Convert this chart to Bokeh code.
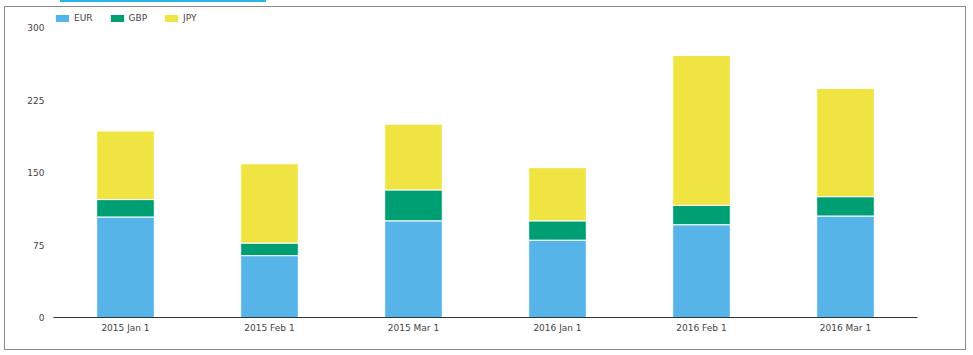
from bokeh.plotting import figure
from bokeh.models import Range1d, FactorRange, FixedTicker, Div, ColumnDataSource
from bokeh.layouts import column
from bokeh.embed import file_html
from bokeh.resources import INLINE

categories = ["2015 Jan 1", "2015 Feb 1", "2015 Mar 1", "2016 Jan 1", "2016 Feb 1", "2016 Mar 1"]
series = ["EUR", "GBP", "JPY"]
EUR = [104, 64, 100, 80, 96, 105]
GBP = [18, 13, 32, 20, 20, 20]
JPY = [71, 82, 68, 55, 155, 112]
colors = ["#56B4E9", "#009E73", "#F0E442"]
y_ticks = [0, 75, 150, 225, 300]

source = ColumnDataSource(data=dict(cat=categories, EUR=EUR, GBP=GBP, JPY=JPY))

FONT = "DejaVu Sans"
TXT = "#444444"

p = figure(
    width=962, height=344, output_backend="svg", toolbar_location=None,
    x_range=FactorRange(factors=categories, range_padding=0),
    y_range=Range1d(0, 314.5),
    min_border_left=49, min_border_right=49, min_border_top=7, min_border_bottom=33,
    margin=(0, 0, 0, 4),
    styles={"background-color": "white", "box-shadow": "inset 0 0 0 1px #8a8a8a"},
)
p.vbar_stack(series, x="cat", width=0.4, source=source, color=colors,
              line_color="white", line_width=1, legend_label=series)

p.outline_line_color = None
p.xgrid.visible = False
p.ygrid.visible = False
p.background_fill_color = None
p.border_fill_color = None

p.yaxis.ticker = FixedTicker(ticks=y_ticks)
p.yaxis.axis_line_color = None
p.yaxis.major_tick_line_color = None
p.yaxis.minor_tick_line_color = None
p.yaxis.major_tick_out = 0
p.yaxis.major_tick_in = 0
p.yaxis.major_label_standoff = 9
p.yaxis.major_label_text_font = FONT
p.yaxis.major_label_text_font_size = "9px"
p.yaxis.major_label_text_color = TXT

p.xaxis.axis_line_color = "#333333"
p.xaxis.axis_line_width = 1
p.xaxis.major_tick_line_color = None
p.xaxis.minor_tick_line_color = None
p.xaxis.major_tick_out = 0
p.xaxis.major_tick_in = 0
p.xaxis.major_label_standoff = 5
p.xaxis.major_label_text_font = FONT
p.xaxis.major_label_text_font_size = "9px"
p.xaxis.major_label_text_color = TXT

lg = p.legend[0]
lg.orientation = "horizontal"
lg.location = "top_left"
lg.margin = 0
lg.padding = 0
lg.border_line_color = None
lg.background_fill_alpha = 0
lg.glyph_width = 18
lg.glyph_height = 10
lg.label_standoff = 3
lg.spacing = 15
lg.label_width = 10
lg.label_height = 10
lg.label_text_font = FONT
lg.label_text_font_size = "9px"
lg.label_text_color = TXT

bar = Div(text="", width=206, height=2, margin=(0, 0, 4, 60),
          styles={"background-color": "#29b6e6"})

layout = column(bar, p, spacing=0)

open("out.html", "w").write(file_html(layout, INLINE))
